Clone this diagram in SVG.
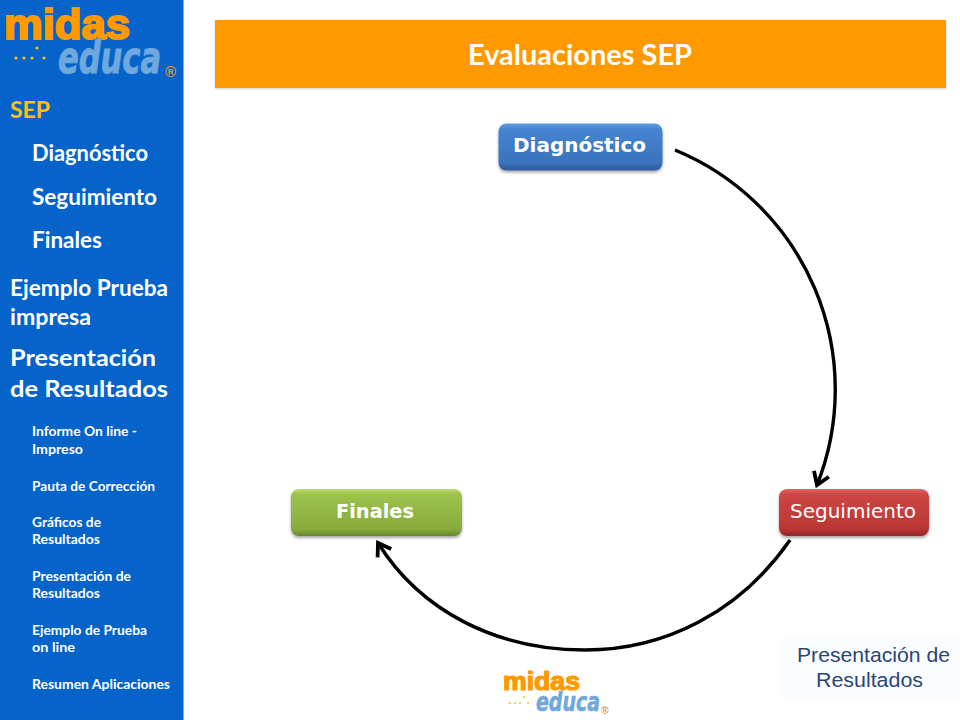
<svg xmlns="http://www.w3.org/2000/svg" width="960" height="720" viewBox="0 0 960 720">
<style>
.m{font-family:Lato,"Open Sans","Liberation Sans",sans-serif;font-weight:700;fill:#fff}
.l{font-size:22px}.s{font-size:13.5px}
.n{font-family:"DejaVu Sans",Verdana,sans-serif;font-size:19.5px;fill:#fff;text-anchor:middle}
.c{fill:none;stroke:#000;stroke-width:3.4}
.midas{font-family:"Liberation Sans",Arial,sans-serif;font-weight:700;fill:#ff9900;stroke:#ff9900}
.educa{font-family:"DejaVu Sans",sans-serif;font-style:italic;font-weight:700;fill:#6fa8dc;stroke:#6fa8dc}
.reg{font-family:"Liberation Sans",Arial,sans-serif;font-weight:700;fill:#e0962a;text-anchor:middle}
.f{font-family:"Liberation Sans",Arial,sans-serif;font-size:20.5px;fill:#2a4674}
</style>
<defs>
<marker id="a" markerUnits="userSpaceOnUse" markerWidth="22" markerHeight="22" refX="15" refY="10" orient="auto"><path d="M3 2L15 10L3 18" fill="none" stroke="#000" stroke-width="3.8"/></marker>
<linearGradient id="b" x1="0" y1="0" x2="0" y2="1"><stop offset="0" stop-color="#5f9de0"/><stop offset=".12" stop-color="#4684d2"/><stop offset=".85" stop-color="#3a72bb"/><stop offset="1" stop-color="#2c5a98"/></linearGradient>
<linearGradient id="g" x1="0" y1="0" x2="0" y2="1"><stop offset="0" stop-color="#bcdc6c"/><stop offset=".12" stop-color="#9cc24e"/><stop offset=".85" stop-color="#88ab3c"/><stop offset="1" stop-color="#67862e"/></linearGradient>
<linearGradient id="r" x1="0" y1="0" x2="0" y2="1"><stop offset="0" stop-color="#e06662"/><stop offset=".12" stop-color="#cd4643"/><stop offset=".85" stop-color="#bb3633"/><stop offset="1" stop-color="#8f2828"/></linearGradient>
<filter id="sh" x="-10%" y="-20%" width="120%" height="150%"><feDropShadow dx="0" dy="2" stdDeviation="1.5" flood-color="#000" flood-opacity=".35"/></filter>
<filter id="hs" x="-2%" y="-5%" width="104%" height="115%"><feDropShadow dx="0" dy="1" stdDeviation="1" flood-color="#000" flood-opacity=".2"/></filter>
</defs>
<rect width="960" height="720" fill="#fff"/>
<g id="sidebar">
<rect width="183.500" height="720" fill="#0563c9"/>
<text x="4" y="39" class="midas" stroke-width="2" font-size="42" textLength="126" lengthAdjust="spacingAndGlyphs">midas</text>
<text x="58" y="73" class="educa" stroke-width="1" font-size="44" textLength="103" lengthAdjust="spacingAndGlyphs">educa</text>
<g fill="#f5c518"><circle cx="16" cy="58" r="1.600"/><circle cx="24" cy="58" r="1.600"/><circle cx="32" cy="58" r="1.600"/><circle cx="37" cy="48" r="1.600"/><circle cx="44" cy="58" r="1.600"/></g>
<text x="170.500" y="77" class="reg" font-size="15">®</text>
<text x="10" y="118" class="m" font-size="23" style="fill:#fdc010">SEP</text>
<text x="32" y="161" class="m l" textLength="116" lengthAdjust="spacingAndGlyphs">Diagnóstico</text>
<text x="32" y="205" class="m l" textLength="125" lengthAdjust="spacingAndGlyphs">Seguimiento</text>
<text x="32" y="248" class="m l" textLength="70" lengthAdjust="spacingAndGlyphs">Finales</text>
<text x="10" y="296" class="m l" textLength="158" lengthAdjust="spacingAndGlyphs">Ejemplo Prueba</text>
<text x="10" y="325" class="m l" textLength="81" lengthAdjust="spacingAndGlyphs">impresa</text>
<text x="10" y="366" class="m" font-size="23.500" textLength="146" lengthAdjust="spacingAndGlyphs">Presentación</text>
<text x="10" y="397" class="m" font-size="23.500" textLength="158" lengthAdjust="spacingAndGlyphs">de Resultados</text>
<text x="32" y="436" class="m s" textLength="105" lengthAdjust="spacingAndGlyphs">Informe On line -</text>
<text x="32" y="454" class="m s" textLength="51" lengthAdjust="spacingAndGlyphs">Impreso</text>
<text x="32" y="491" class="m s" textLength="123" lengthAdjust="spacingAndGlyphs">Pauta de Corrección</text>
<text x="32" y="527" class="m s" textLength="69" lengthAdjust="spacingAndGlyphs">Gráficos de</text>
<text x="32" y="544" class="m s" textLength="68" lengthAdjust="spacingAndGlyphs">Resultados</text>
<text x="32" y="581" class="m s" textLength="99" lengthAdjust="spacingAndGlyphs">Presentación de</text>
<text x="32" y="598" class="m s" textLength="68" lengthAdjust="spacingAndGlyphs">Resultados</text>
<text x="32" y="635" class="m s" textLength="115" lengthAdjust="spacingAndGlyphs">Ejemplo de Prueba</text>
<text x="32" y="652" class="m s" textLength="43" lengthAdjust="spacingAndGlyphs">on line</text>
<text x="32" y="689" class="m s" textLength="138" lengthAdjust="spacingAndGlyphs">Resumen Aplicaciones</text>
</g>
<g id="header">
<rect x="215" y="20" width="731" height="68" fill="#ff9900" filter="url(#hs)"/>
<text x="580" y="65" font-family="Lato,'Open Sans',sans-serif" font-weight="700" font-size="29" fill="#fff" text-anchor="middle" textLength="224" lengthAdjust="spacingAndGlyphs">Evaluaciones SEP</text>
</g>
<g id="connectors">
<path class="c" d="M675 150A259 259 0 0 1 817 485" marker-end="url(#a)"/>
<path class="c" d="M790 540C740 612 665 650 585 650C495 650 420 610 378 543" marker-end="url(#a)"/>
</g>
<g id="node-diagnostico">
<rect x="498.500" y="123.500" width="164" height="47" rx="8" fill="url(#b)" filter="url(#sh)"/>
<text x="579.500" y="152" class="n" font-weight="700" textLength="133" lengthAdjust="spacingAndGlyphs">Diagnóstico</text>
</g>
<g id="node-finales">
<rect x="291" y="489" width="171" height="47" rx="8" fill="url(#g)" filter="url(#sh)"/>
<text x="375" y="518" class="n" font-weight="700" textLength="78" lengthAdjust="spacingAndGlyphs">Finales</text>
</g>
<g id="node-seguimiento">
<rect x="779" y="489" width="150" height="47" rx="8" fill="url(#r)" filter="url(#sh)"/>
<text x="853" y="518" class="n" textLength="126" lengthAdjust="spacingAndGlyphs">Seguimiento</text>
</g>
<g id="footer">
<rect x="781" y="638" width="179" height="60" fill="#fbfcfd"/>
<text x="797" y="662" class="f" textLength="153" lengthAdjust="spacingAndGlyphs">Presentación de</text>
<text x="816" y="687" class="f" textLength="107" lengthAdjust="spacingAndGlyphs">Resultados</text>
<text x="503" y="690" class="midas" stroke-width="1.200" font-size="25" textLength="77" lengthAdjust="spacingAndGlyphs">midas</text>
<text x="536" y="711" class="educa" stroke-width=".6" font-size="27" textLength="64" lengthAdjust="spacingAndGlyphs">educa</text>
<g fill="#f5c518"><circle cx="510" cy="703" r="1"/><circle cx="515" cy="703" r="1"/><circle cx="520" cy="703" r="1"/><circle cx="524" cy="697" r="1"/><circle cx="528" cy="703" r="1"/></g>
<text x="605" y="714" class="reg" font-size="10">®</text>
</g>
</svg>
